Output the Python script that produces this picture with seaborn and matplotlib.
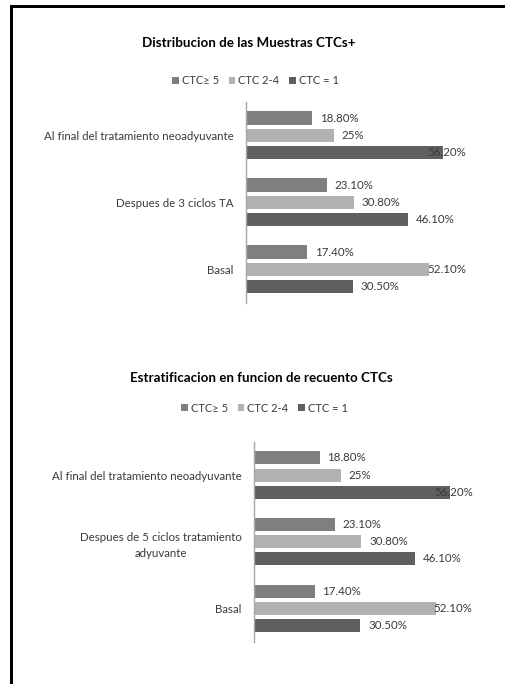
import matplotlib
matplotlib.use("Agg")
import matplotlib.pyplot as plt
from matplotlib.patches import Patch, Rectangle
import numpy as np
import pandas as pd
import seaborn as sns

# Series (CTC count strata) and their values per treatment stage, in %
series = ["CTC\u2265 5", "CTC 2-4", "CTC = 1"]
series_colors = ["#7f7f7f", "#b2b2b2", "#5f5f5f"]

stages_top = ["Al final del tratamiento neoadyuvante", "Despues de 3 ciclos TA", "Basal"]
stages_bottom = ["Al final del tratamiento neoadyuvante",
                 "Despues de 5 ciclos tratamiento\nadyuvante", "Basal"]

ctc_5 = [18.8, 23.1, 17.4]
ctc_2_4 = [25.0, 30.8, 52.1]
ctc_1 = [56.2, 46.1, 30.5]

title_top = "Distribucion de las Muestras CTCs+"
title_bottom = "Estratificacion en funcion de recuento CTCs"

sns.set_theme(style="white")
plt.rcParams["font.family"] = ["Lato", "DejaVu Sans"]

W, H, DPI = 506, 684, 100
fig = plt.figure(figsize=(W / DPI, H / DPI), dpi=DPI)
fig.patch.set_facecolor("white")

TEXT = "#3a3a3a"
FS = 8.3
FS_LEGEND = 8.0
FS_TITLE = 9.6


def fmt(v):
    return f"{v:.0f}%" if float(v).is_integer() else f"{v:.2f}%"


def panel(rect, stages, title, title_xy, legend_xy):
    ax = fig.add_axes(rect)
    df = pd.DataFrame({
        "stage": stages * 3,
        "serie": np.repeat(series, len(stages)),
        "pct": ctc_5 + ctc_2_4 + ctc_1,
    })
    sns.barplot(data=df, y="stage", x="pct", hue="serie", order=stages,
                hue_order=series, palette=series_colors, orient="h",
                width=0.77, gap=0.24, saturation=1, linewidth=0,
                errorbar=None, legend=False, ax=ax)
    ax.set_xlim(0, 62.7)
    ax.set_ylim(2.5, -0.5)
    ax.set_xlabel("")
    ax.set_ylabel("")
    ax.set_xticks([])
    ax.set_yticks(range(len(stages)), labels=stages, multialignment="center",
                  linespacing=1.6, fontsize=FS, color=TEXT)
    for side in ("top", "right", "bottom"):
        ax.spines[side].set_visible(False)
    ax.spines["left"].set_color("#a6a6a6")
    ax.spines["left"].set_linewidth(1.0)
    ax.tick_params(axis="y", length=0, pad=9)

    labels = []
    for cont in ax.containers:
        for bar in cont:
            v = bar.get_width()
            yc = bar.get_y() + bar.get_height() / 2
            t = ax.annotate(fmt(round(v, 1)), xy=(v, yc), xytext=(5.5, 0),
                            textcoords="offset points", ha="left", va="center",
                            fontsize=FS, color=TEXT, zorder=5)
            labels.append(t)

    fig.text(title_xy[0], title_xy[1], title, ha="center", va="center",
             fontsize=FS_TITLE, fontweight="bold", color="black")
    handles = [Patch(facecolor=c, edgecolor="none", label=s)
               for s, c in zip(series, series_colors)]
    fig.legend(handles=handles, loc="center", bbox_to_anchor=legend_xy,
               ncol=3, frameon=False, fontsize=FS_LEGEND, handlelength=0.6,
               handleheight=0.6, handletextpad=0.25, columnspacing=0.9,
               labelcolor=TEXT)
    return ax, labels


ax1, lab1 = panel([246 / W, 1 - 302.7 / H, 220 / W, 201 / H], stages_top,
                  title_top, (248.7 / W, 1 - 43 / H), (255.5 / W, 1 - 81 / H))
ax2, lab2 = panel([254 / W, 1 - 641.7 / H, 218.7 / W, 200 / H], stages_bottom,
                  title_bottom, (261.7 / W, 1 - 378 / H), (264.5 / W, 1 - 408 / H))

# Keep value labels inside the plot area, pulling long ones back over the bar
renderer = fig.canvas.get_renderer()
for ax, labs in ((ax1, lab1), (ax2, lab2)):
    right = ax.get_window_extent(renderer).x1
    for t in labs:
        bb = t.get_window_extent(renderer)
        if bb.x1 > right:
            dx, dy = t.xyann
            t.xyann = (dx - (bb.x1 - right) * 72 / DPI, dy)

# Frame bands along the top and left edges (filled strips, in pixels)
fig.add_artist(Rectangle((10 / W, 1 - 8 / H), 1 - 10 / W, 3 / H,
                         facecolor="black", edgecolor="none",
                         transform=fig.transFigure))
fig.add_artist(Rectangle((10 / W, 0), 3 / W, 1 - 5 / H,
                         facecolor="black", edgecolor="none",
                         transform=fig.transFigure))

fig.savefig("out.png", dpi=DPI, facecolor="white")
